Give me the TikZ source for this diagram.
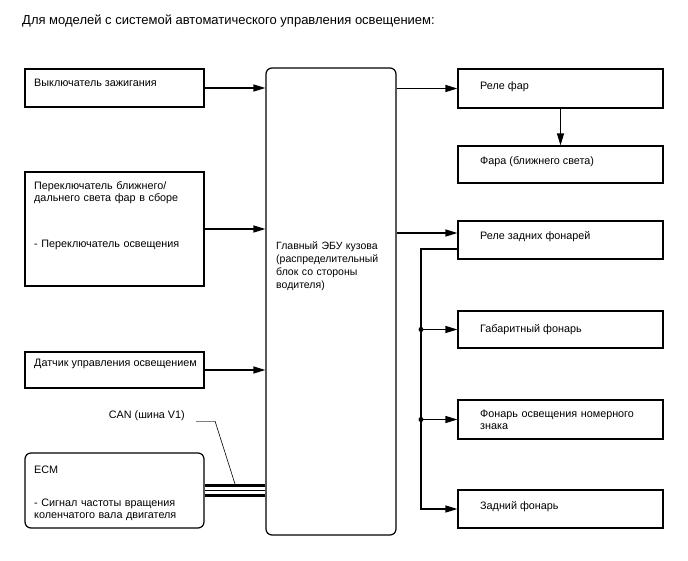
\documentclass[tikz,border=0pt]{standalone}
\usepackage{fontspec}
\setmainfont{Liberation Sans}
\usetikzlibrary{arrows.meta}
\tikzset{
  box/.style={draw, line width=1.2pt, inner sep=0pt},
  rbox/.style={box, rounded corners=6pt},
  txt/.style={anchor=base west, inner sep=0pt, font=\fontsize{10.8}{12.5}\selectfont, align=left},
  arr/.style={-{Triangle[length=12pt,width=7pt]}, line width=1.2pt},
}
\begin{document}
\begin{tikzpicture}[x=1pt,y=-1pt]
        \useasboundingbox (0,0) rectangle (688,560);
        \node[txt, font=\fontsize{13}{15}\selectfont] (title) at (22,24) {Для моделей с системой автоматического управления освещением:};
        % inputs
        \node[box, minimum width=179, minimum height=38] (ign) at (114.5,88) {};
        \node[txt] (ignt) at (34,86) {Выключатель зажигания};
        \node[box, minimum width=179, minimum height=114] (sw) at (114.5,229) {};
        \node[txt, text width=170] (swt) at (34,189) {Переключатель ближнего/\\дальнего света фар в сборе\\[33pt]- Переключатель освещения};
        \node[box, minimum width=179, minimum height=36] (sens) at (114.5,370) {};
        \node[txt] (senst) at (34,366) {Датчик управления освещением};
        \node[rbox, minimum width=179, minimum height=75] (ecm) at (114.5,490.5) {};
        \node[txt, text width=170] (ecmt) at (34,473) {ECM\\[20.5pt]- Сигнал частоты вращения\\коленчатого вала двигателя};
        % body ECU
        \node[rbox, minimum width=130, minimum height=467] (bcm) at (331,301.5) {};
        \node[txt, text width=120, font=\fontsize{10.5}{13}\selectfont] (bcmt) at (276,249) {Главный ЭБУ кузова\\(распределительный\\блок со стороны\\водителя)};
        % outputs
        \node[box, minimum width=205, minimum height=39] (hrel) at (560.5,88.5) {};
        \node[txt] (hrelt) at (480,89) {Реле фар};
        \node[box, minimum width=205, minimum height=37] (head) at (560.5,164.5) {};
        \node[txt] (headt) at (480,164) {Фара (ближнего света)};
        \node[box, minimum width=205, minimum height=38] (trel) at (560.5,240) {};
        \node[txt] (trelt) at (480,239) {Реле задних фонарей};
        \node[box, minimum width=205, minimum height=37] (clr) at (560.5,329.5) {};
        \node[txt] (clrt) at (480,332) {Габаритный фонарь};
        \node[box, minimum width=205, minimum height=39] (lic) at (560.5,419.5) {};
        \node[txt, text width=180] (lict) at (480,417) {Фонарь освещения номерного\\знака};
        \node[box, minimum width=205, minimum height=38] (tail) at (560.5,509) {};
        \node[txt] (tailt) at (480,509) {Задний фонарь};
        % connectors
        \draw[arr] (ign.east) -- (ign.east -| bcm.west);
        \draw[arr] (sw.east) -- (sw.east -| bcm.west);
        \draw[arr] (sens.east) -- (sens.east -| bcm.west);
        \draw[arr] (hrel.west -| bcm.east) -- (hrel.west);
        \draw[arr] (hrel.south) -- (head.north);
        \draw[arr] ([yshift=7pt]trel.west -| bcm.east) -- ([yshift=7pt]trel.west);
        \coordinate (bus) at (421,249);
        \draw[arr] (bus -| trel.west) -- (bus) -- (bus |- tail.west) -- (tail.west);
        \foreach \n in {clr,lic} {
            \fill (bus |- \n.west) circle (2.5pt);
            \draw[arr] (bus |- \n.west) -- (\n.west);
        }
        % CAN
        \draw[line width=2.4pt] ([yshift=5pt]ecm.east) -- ([yshift=5pt]ecm.east -| bcm.west);
        \draw[line width=1.2pt] (ecm.east) -- (ecm.east -| bcm.west);
        \draw[line width=2.4pt] ([yshift=-5pt]ecm.east) -- ([yshift=-5pt]ecm.east -| bcm.west);
        \node[txt, anchor=base east] (can) at (185,418) {CAN (шина V1)};
        \coordinate (canA) at (196,421);
        \coordinate (canB) at (215,421);
        \coordinate (canC) at (235,484);
        \draw[gray, line width=1pt] (canA) -- (canB);
        \draw[line width=0.6pt] (canB) -- (canC);
\end{tikzpicture}
\end{document}
